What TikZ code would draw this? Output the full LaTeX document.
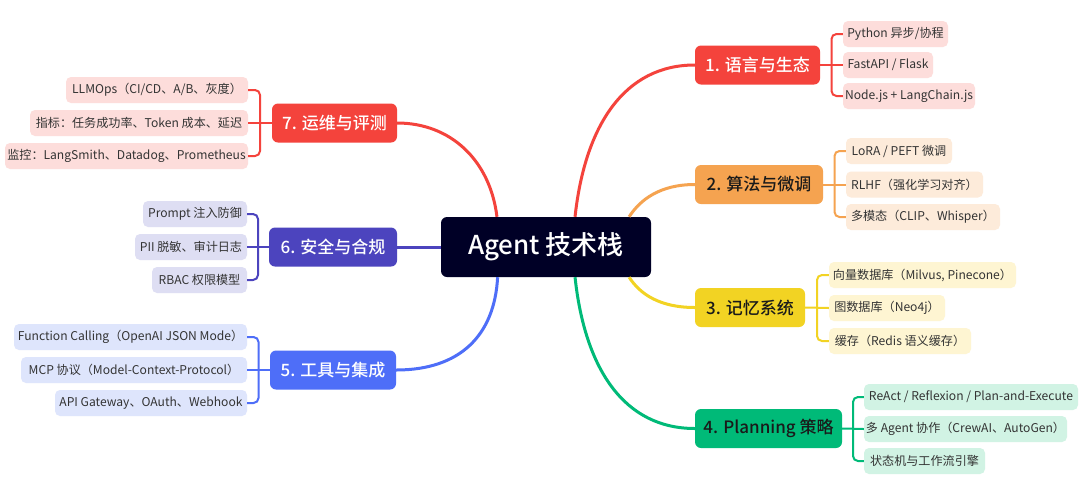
\documentclass[tikz,border=0pt]{standalone}
\usepackage{fontspec}
\setmainfont{Noto Sans CJK SC}
\newfontfamily\medfont{Noto Sans CJK SC Medium}
\usetikzlibrary{calc}
\definecolor{cCenter}{HTML}{000026}
\definecolor{cRed}{HTML}{F4433C}
\definecolor{cRedL}{HTML}{FDDDDB}
\definecolor{cOrange}{HTML}{F5A350}
\definecolor{cOrangeL}{HTML}{FDEBDA}
\definecolor{cYellow}{HTML}{F2D323}
\definecolor{cYellowL}{HTML}{FEF5D2}
\definecolor{cGreen}{HTML}{00BA78}
\definecolor{cGreenL}{HTML}{D1F3E4}
\definecolor{cPurple}{HTML}{4C44BE}
\definecolor{cPurpleL}{HTML}{DEDEF3}
\definecolor{cBlue}{HTML}{4E6EF8}
\definecolor{cBlueL}{HTML}{DEE5FC}
\definecolor{cLeafText}{HTML}{333333}
\definecolor{cDarkText}{HTML}{1A1A1A}
\begin{document}
\begin{tikzpicture}[x=1pt,y=-1pt,
  leaf/.style={rounded corners=5pt, minimum height=26pt, inner sep=0pt, text=cLeafText, font=\fontsize{12.1}{15}\selectfont},
  branch/.style={rounded corners=6pt, minimum height=39pt, inner sep=0pt, font=\medfont\fontsize{17}{20}\selectfont},
  mainline/.style={line width=3pt},
  brk/.style={line width=2pt, rounded corners=5pt}]
\useasboundingbox (0,0) rectangle (1080,491);
\fill[white] (0,0) rectangle (1080,491);

% central
\node[fill=cCenter, text=white, rounded corners=6pt, minimum width=210pt, minimum height=60pt, inner sep=0pt, font=\medfont\fontsize{26}{30}\selectfont] (C) at (546,247) {Agent 技术栈};

% branches
\node[branch, fill=cRed, text=white, minimum width=125pt] (B1) at (757.5,65) {1. 语言与生态};
\node[branch, fill=cOrange, text=cDarkText, minimum width=128pt] (B2) at (759,184.5) {2. 算法与微调};
\node[branch, fill=cYellow, text=cDarkText, minimum width=110pt] (B3) at (750,307.5) {3. 记忆系统};
\node[branch, fill=cGreen, text=cDarkText, minimum width=147pt] (B4) at (768.5,428.5) {4. Planning 策略};
\node[branch, fill=cBlue, text=white, minimum width=126pt] (B5) at (333,370) {5. 工具与集成};
\node[branch, fill=cPurple, text=white, minimum width=128pt] (B6) at (333,247) {6. 安全与合规};
\node[branch, fill=cRed, text=white, minimum width=125pt] (B7) at (334.5,123) {7. 运维与评测};

% leaves 1
\node[leaf, fill=cRedL, minimum width=105pt] (L1a) at (895.5,34) {Python 异步/协程};
\node[leaf, fill=cRedL, minimum width=90pt] (L1b) at (888,65) {FastAPI / Flask};
\node[leaf, fill=cRedL, minimum width=132pt] (L1c) at (909,96) {Node.js + LangChain.js};
% leaves 2
\node[leaf, fill=cOrangeL, minimum width=106pt] (L2a) at (899,151) {LoRA / PEFT 微调};
\node[leaf, fill=cOrangeL, minimum width=137pt] (L2b) at (914.5,184.5) {RLHF（强化学习对齐）};
\node[leaf, fill=cOrangeL, minimum width=154pt] (L2c) at (923,217) {多模态（CLIP、Whisper）};
% leaves 3
\node[leaf, fill=cYellowL, minimum width=187pt] (L3a) at (922.5,275) {向量数据库（Milvus, Pinecone）};
\node[leaf, fill=cYellowL, minimum width=116pt] (L3b) at (887,308) {图数据库（Neo4j）};
\node[leaf, fill=cYellowL, minimum width=142pt] (L3c) at (900,341) {缓存（Redis 语义缓存）};
% leaves 4
\node[leaf, fill=cGreenL, minimum width=214pt] (L4a) at (971,397) {ReAct / Reflexion / Plan-and-Execute};
\node[leaf, fill=cGreenL, minimum width=203pt] (L4b) at (965.5,429) {多 Agent 协作（CrewAI、AutoGen）};
\node[leaf, fill=cGreenL, minimum width=121pt] (L4c) at (924.5,461) {状态机与工作流引擎};
% leaves 5
\node[leaf, fill=cBlueL, minimum width=233pt] (L5a) at (130.5,337) {Function Calling（OpenAI JSON Mode）};
\node[leaf, fill=cBlueL, minimum width=226pt] (L5b) at (134,370) {MCP 协议（Model-Context-Protocol）};
\node[leaf, fill=cBlueL, minimum width=192pt] (L5c) at (151,403) {API Gateway、OAuth、Webhook};
% leaves 6
\node[leaf, fill=cPurpleL, minimum width=104pt] (L6a) at (195,214) {Prompt 注入防御};
\node[leaf, fill=cPurpleL, minimum width=112pt] (L6b) at (191,247) {PII 脱敏、审计日志};
\node[leaf, fill=cPurpleL, minimum width=95pt] (L6c) at (199.5,280) {RBAC 权限模型};
% leaves 7
\node[leaf, fill=cRedL, minimum width=182pt] (L7a) at (157,90) {LLMOps（CI/CD、A/B、灰度）};
\node[leaf, fill=cRedL, minimum width=218pt] (L7b) at (139,123) {指标：任务成功率、Token 成本、延迟};
\node[leaf, fill=cRedL, minimum width=243pt] (L7c) at (126.5,156) {监控：LangSmith、Datadog、Prometheus};

% main connectors
\draw[mainline, cRed] ($(C.north west)!0.638!(C.north east)$) .. controls +(10,-92) and +(-70,0) .. (B1.west);
\draw[mainline, cOrange] ($(C.north west)!0.895!(C.north east)$) .. controls +(11,-17) and +(-35,0) .. (B2.west);
\draw[mainline, cYellow] ($(C.south west)!0.895!(C.south east)$) .. controls +(11,17) and +(-35,0) .. (B3.west);
\draw[mainline, cGreen] ($(C.south west)!0.638!(C.south east)$) .. controls +(10,93) and +(-70,0) .. (B4.west);
\draw[mainline, cBlue] ($(C.south west)!0.27!(C.south east)$) .. controls +(-3,58) and +(64,0) .. (B5.east);
\draw[mainline, cPurple] (C.west) -- (B6.east);
\draw[mainline, cRed] ($(C.north west)!0.267!(C.north east)$) .. controls +(-7,-57) and +(53,0) .. (B7.east);

% brackets right
\draw[brk, cRed] (L1a.west) -| ($(B1.east)!0.5!(L1b.west)$) |- (L1c.west);
\draw[brk, cRed] (B1.east) -- (L1b.west);
\draw[brk, cOrange] (L2a.west) -| ($(B2.east)!0.5!(L2b.west)$) |- (L2c.west);
\draw[brk, cOrange] (B2.east) -- (L2b.west);
\draw[brk, cYellow] (L3a.west) -| ($(B3.east)!0.5!(L3b.west)$) |- (L3c.west);
\draw[brk, cYellow] (B3.east) -- (L3b.west);
\draw[brk, cGreen] (L4a.west) -| ($(B4.east)!0.5!(L4b.west)$) |- (L4c.west);
\draw[brk, cGreen] (B4.east) -- (L4b.west);
% brackets left
\draw[brk, cBlue] (L5a.east) -| ($(B5.west)!0.5!(L5b.east)$) |- (L5c.east);
\draw[brk, cBlue] (B5.west) -- (L5b.east);
\draw[brk, cPurple] (L6a.east) -| ($(B6.west)!0.5!(L6b.east)$) |- (L6c.east);
\draw[brk, cPurple] (B6.west) -- (L6b.east);
\draw[brk, cRed] (L7a.east) -| ($(B7.west)!0.5!(L7b.east)$) |- (L7c.east);
\draw[brk, cRed] (B7.west) -- (L7b.east);
\end{tikzpicture}
\end{document}
